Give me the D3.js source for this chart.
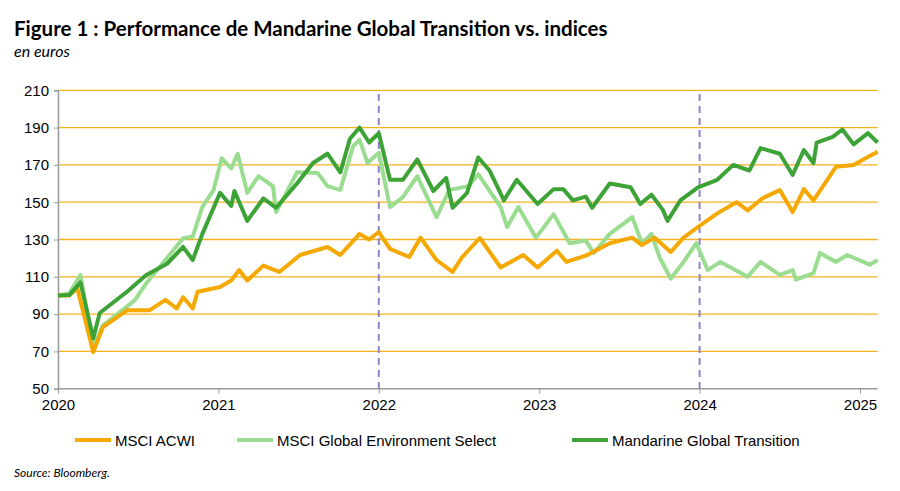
<!DOCTYPE html>
<html>
<head>
<meta charset="utf-8">
<script src="https://cdn.jsdelivr.net/npm/d3@7"></script>
<style>
  body { margin: 0; background: #fff; }
  text { font-family: "Liberation Sans", Arial, sans-serif; }
</style>
</head>
<body>
<svg id="chart" width="900" height="491"></svg>
<script>
// values, [fractional year, index]
const acwi = [[2020.0,100],[2020.07,100],[2020.12,104],[2020.22,69.6],[2020.28,83],[2020.43,92],[2020.57,92],[2020.67,97.6],[2020.74,93],[2020.78,99],[2020.84,93],[2020.87,102],[2021.01,104.5],[2021.08,108],[2021.13,113.6],[2021.18,108],[2021.28,116],[2021.38,112.6],[2021.51,121.7],[2021.68,126],[2021.76,121.7],[2021.88,133],[2021.94,130],[2022.0,134],[2022.07,125],[2022.19,120.6],[2022.26,131],[2022.36,119],[2022.46,112.6],[2022.52,120.6],[2022.63,130.8],[2022.76,115],[2022.9,121.7],[2022.99,115],[2023.11,124],[2023.17,118],[2023.3,121.7],[2023.44,128],[2023.58,131],[2023.64,127],[2023.72,131],[2023.82,123.3],[2023.9,131],[2023.99,136.7],[2024.11,144],[2024.23,150],[2024.3,145.6],[2024.39,152],[2024.5,156.5],[2024.58,144.7],[2024.65,157],[2024.71,151],[2024.85,169],[2024.96,170],[2025.04,173.8],[2025.11,177]]
const envSelect = [[2020.0,100],[2020.07,101],[2020.14,111],[2020.22,72],[2020.28,84],[2020.43,94],[2020.48,97.6],[2020.55,106.5],[2020.66,118],[2020.78,130.7],[2020.84,131.6],[2020.9,147.5],[2020.97,156.5],[2021.02,173.6],[2021.08,168],[2021.12,176],[2021.18,155],[2021.25,164],[2021.34,158.6],[2021.36,144.7],[2021.49,166],[2021.62,165.6],[2021.68,158.6],[2021.76,156.6],[2021.84,180],[2021.88,183.6],[2021.93,171],[2022.0,176.6],[2022.07,147.4],[2022.15,152.7],[2022.24,164],[2022.36,142],[2022.44,156.6],[2022.56,158.6],[2022.62,165],[2022.76,147.4],[2022.8,136.7],[2022.87,147.4],[2022.98,131],[2023.09,143.6],[2023.19,128],[2023.29,129.5],[2023.34,122.7],[2023.44,133],[2023.58,142],[2023.64,128],[2023.7,133],[2023.75,120.5],[2023.82,109],[2023.9,118],[2023.98,128],[2024.05,113.6],[2024.13,118],[2024.3,110],[2024.38,118],[2024.5,111],[2024.58,113.6],[2024.6,108.5],[2024.71,112],[2024.75,122.7],[2024.85,118],[2024.92,121.7],[2025.06,116.5],[2025.11,119]]
const mandarine = [[2020.0,100],[2020.07,100.2],[2020.14,107],[2020.22,77],[2020.26,90.6],[2020.43,102],[2020.55,111],[2020.68,117],[2020.78,126],[2020.84,119],[2020.9,133],[2021.01,155],[2021.08,148],[2021.1,156],[2021.18,140],[2021.28,152],[2021.36,147],[2021.49,160],[2021.59,171],[2021.68,176],[2021.76,166],[2021.82,184],[2021.88,190],[2021.94,182],[2022.0,187],[2022.07,162],[2022.15,162],[2022.24,173],[2022.34,156],[2022.42,163],[2022.46,147],[2022.55,155],[2022.62,174],[2022.69,167],[2022.78,151],[2022.86,162],[2022.99,149],[2023.09,157],[2023.15,157],[2023.21,151],[2023.29,153],[2023.33,147],[2023.44,160],[2023.57,158],[2023.63,149],[2023.7,154],[2023.77,146],[2023.8,140],[2023.88,151],[2023.99,158],[2024.11,162],[2024.21,170],[2024.31,167],[2024.38,179],[2024.5,176],[2024.58,164.6],[2024.65,178],[2024.71,171],[2024.73,182],[2024.83,185],[2024.89,189],[2024.96,181],[2025.05,187],[2025.11,182]]

const yTicks = [50, 70, 90, 110, 130, 150, 170, 190, 210]
const xTicks = [2020, 2021, 2022, 2023, 2024, 2025]
const markerYears = [2022, 2024]
const seriesNames = ["MSCI ACWI", "MSCI Global Environment Select", "Mandarine Global Transition"]
const seriesColors = ["#F5A800", "#9ADD90", "#3DA336"]

const svg = d3.select("#chart")
const x = d3.scaleLinear().domain([2020, 2025]).range([58, 860])
const y = d3.scaleLinear().domain([50, 210]).range([388.7, 90.3])
const xEnd = x(2025.11)

svg.append("text").attr("x", 14).attr("y", 36).attr("font-size", 20.5).attr("font-weight", "bold")
  .style("font-family", "Lato, sans-serif").text("Figure 1 : Performance de Mandarine Global Transition vs. indices")
svg.append("text").attr("x", 14).attr("y", 57).attr("font-size", 16).attr("font-style", "italic")
  .style("font-family", "Lato, sans-serif").text("en euros")

// grid
svg.append("g").selectAll("line").data(yTicks.slice(1)).join("line")
  .attr("x1", x(2020)).attr("x2", xEnd).attr("y1", d => y(d)).attr("y2", d => y(d))
  .attr("stroke", "#F5B21E").attr("stroke-width", 1.3)

svg.append("g").selectAll("line").data(markerYears).join("line")
  .attr("x1", d => x(d)).attr("x2", d => x(d)).attr("y1", y(208)).attr("y2", y(50))
  .attr("stroke", "#8F82C4").attr("stroke-width", 2).attr("stroke-dasharray", "7,5")

// axes
const yAxis = svg.append("g").attr("transform", `translate(${x(2020)},0)`)
  .call(d3.axisLeft(y).tickValues(yTicks).tickSize(4).tickPadding(5))
const xAxis = svg.append("g").attr("transform", `translate(0,${y(50)})`)
  .call(d3.axisBottom(x).tickValues(xTicks).tickFormat(d3.format("d")).tickSize(5).tickPadding(6))
xAxis.select(".domain").attr("d", `M${x(2020)},0H${xEnd}`)
for (const a of [xAxis, yAxis]) {
  a.select(".domain").attr("stroke", "#999").attr("stroke-width", 1.5)
  a.selectAll(".tick line").attr("stroke", "#999")
  a.selectAll("text").attr("font-size", 15).attr("fill", "#000").style("font-family", "Liberation Sans, Arial")
}

const line = d3.line().x(d => x(d[0])).y(d => y(d[1]))
const allSeries = [acwi, envSelect, mandarine]
// draw light green, orange, then dark green on top
for (const i of [1, 0, 2]) {
  svg.append("path").datum(allSeries[i]).attr("d", line).attr("fill", "none")
    .attr("stroke", seriesColors[i]).attr("stroke-width", 4).attr("stroke-linejoin", "round")
}

// legend
const legendX = [75, 237, 572]
const lg = svg.append("g").selectAll("g").data(seriesNames).join("g")
  .attr("transform", (d, i) => `translate(${legendX[i]},440)`)
lg.append("line").attr("x1", 0).attr("x2", 36).attr("stroke", (d, i) => seriesColors[i]).attr("stroke-width", 4)
lg.append("text").attr("x", 40).attr("y", 5.5).attr("font-size", 15).text(d => d)

svg.append("text").attr("x", 14).attr("y", 477).attr("font-size", 12).attr("font-style", "italic")
  .style("font-family", "Lato, sans-serif").text("Source:  Bloomberg.")
</script>
</body>
</html>
